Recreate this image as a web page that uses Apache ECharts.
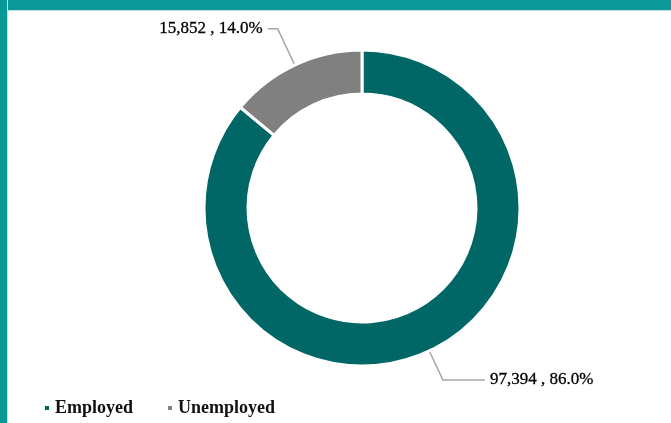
<!DOCTYPE html>
<html>
<head>
<meta charset="utf-8">
<script src="https://cdn.jsdelivr.net/npm/echarts@6/dist/echarts.min.js"></script>
<style>
  html, body { margin: 0; padding: 0; background: #fff; }
  .frame { position: relative; width: 671px; height: 423px; overflow: hidden; }
  .bar-top { position: absolute; left: 0; top: 0; width: 671px; height: 10px; background: #0a9999; border-bottom: 1px solid #bfe3e3; }
  .bar-left { position: absolute; left: 0; top: 0; width: 7px; height: 423px; background: #0a9999; border-right: 1px solid #bfe3e3; }
  #chart { position: absolute; left: 0; top: 0; width: 671px; height: 423px; }
</style>
</head>
<body>
<div class="frame">
  <div id="chart"></div>
  <div class="bar-top"></div>
  <div class="bar-left"></div>
</div>
<script>
// data
const categories = ['Employed', 'Unemployed']
const values = [97394, 15852]
const colors = ['#006666', '#808080']

function withCommas (n) {
  return String(n).replace(/\B(?=(\d{3})+(?!\d))/g, ',')
}

const chart = echarts.init(document.getElementById('chart'))

let pieData = []
categories.forEach((name, i) => {
  pieData.push({
    name: name,
    value: values[i],
    itemStyle: { color: colors[i] },
    // leader line lengths per slice
    labelLine: i === 0 ? { length: 32, length2: 42 } : { length: 40, length2: 10 }
  })
})

const option = {
  animation: false,
  textStyle: { fontFamily: 'Liberation Serif' },
  legend: {
    data: categories,
    left: 38,
    top: 394,
    icon: 'rect',
    itemWidth: 6,
    itemHeight: 6,
    itemGap: 33,
    textStyle: {
      fontFamily: 'Liberation Serif',
      fontSize: 18,
      fontWeight: 'bold',
      color: '#111'
    }
  },
  series: [
    {
      type: 'pie',
      center: [362, 208],
      radius: [114, 158],
      startAngle: 90,
      clockwise: true,
      avoidLabelOverlap: false,
      itemStyle: { borderColor: '#fff', borderWidth: 3 },
      label: {
        show: true,
        position: 'outside',
        fontFamily: 'Liberation Serif',
        fontSize: 17,
        color: '#000',
        textBorderColor: '#000',
        textBorderWidth: 0.3,
        formatter: function (p) {
          return withCommas(p.value) + ' , ' + p.percent.toFixed(1) + '%'
        }
      },
      labelLine: {
        show: true,
        lineStyle: { color: '#a6a6a6', width: 1.5 }
      },
      data: pieData
    }
  ]
}
chart.setOption(option)
</script>
</body>
</html>
